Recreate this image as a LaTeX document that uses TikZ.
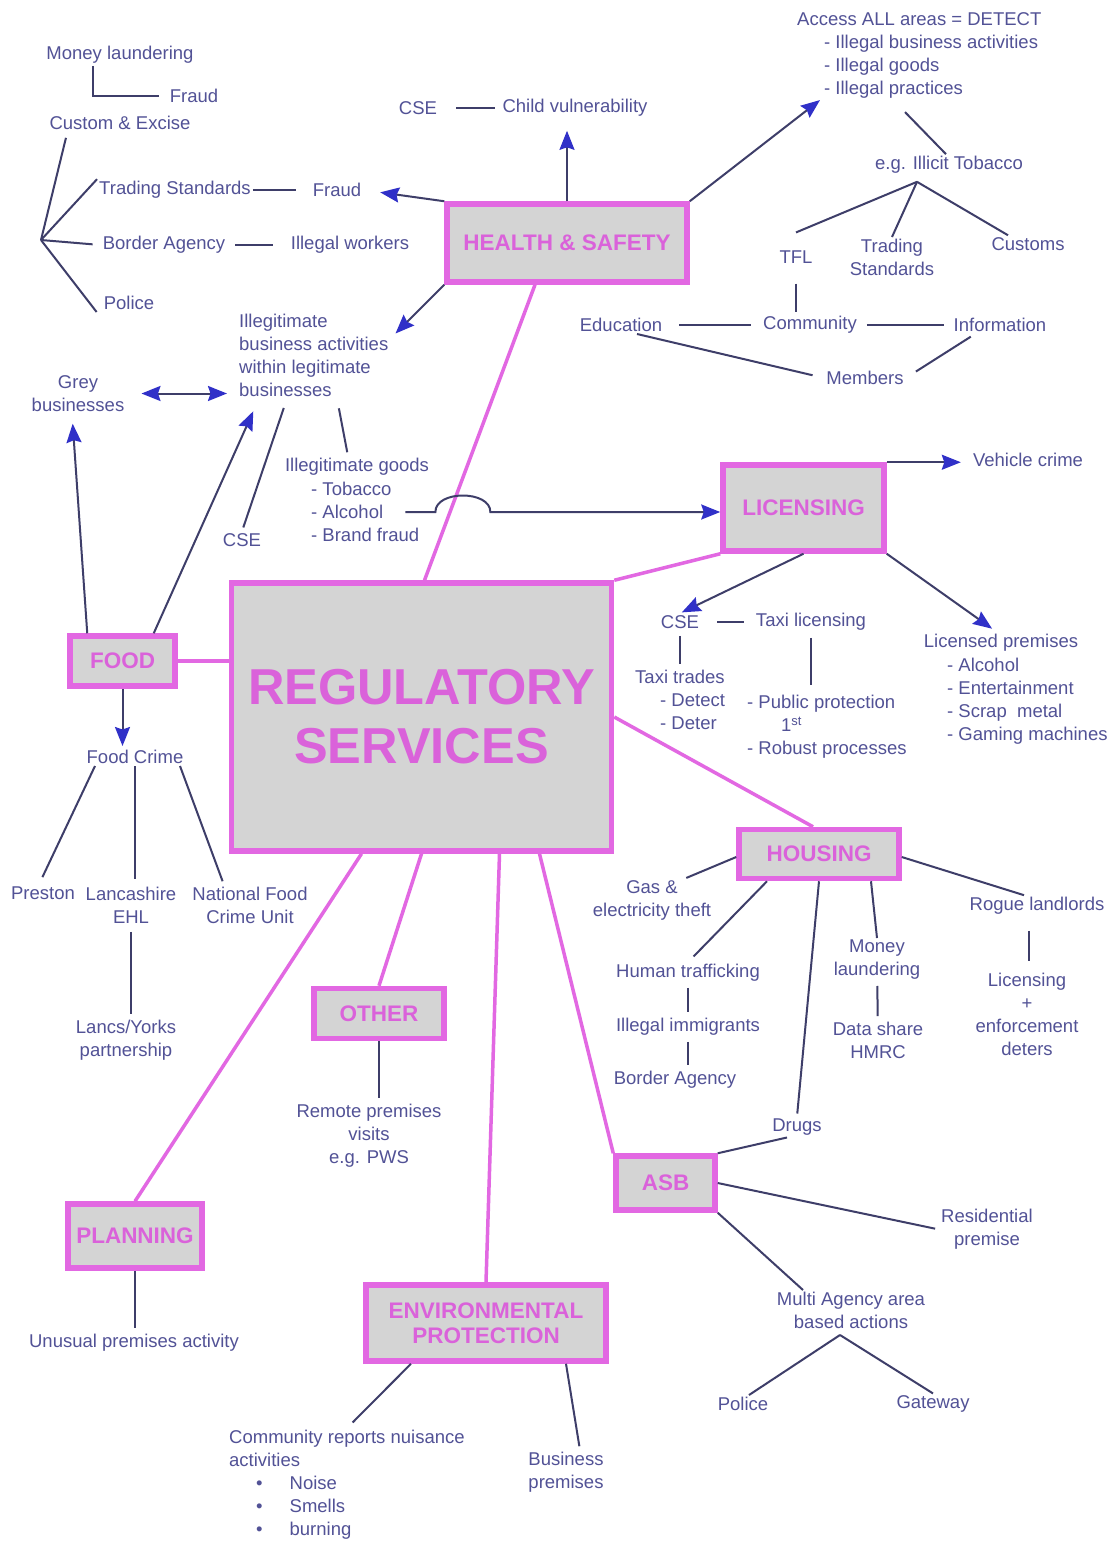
\documentclass[tikz,border=0pt]{standalone}
\usepackage{fontspec}
\setmainfont{Liberation Sans}
\usetikzlibrary{arrows.meta}

\definecolor{pinkline}{RGB}{226,104,226}
\definecolor{pinktext}{RGB}{218,98,218}
\definecolor{boxgrey}{RGB}{212,212,212}
\definecolor{txtblue}{RGB}{82,82,150}
\definecolor{linegrey}{RGB}{62,62,105}
\definecolor{tipblue}{RGB}{48,48,200}

\begin{document}
\begin{tikzpicture}[x=1pt, y=-1pt,
    >={Stealth[length=19pt,width=15pt,inset=2.5pt,color=tipblue]},
    unit/.style={draw=pinkline, line width=5.5pt, fill=boxgrey, text=pinktext,
      font=\fontsize{22.5}{25.5}\selectfont\bfseries, align=center, inner sep=0pt},
    lbl/.style={text=txtblue, font=\fontsize{18.5}{23}\selectfont, align=center, inner sep=2pt},
    link/.style={draw=linegrey, line width=2pt},
    spoke/.style={draw=pinkline, line width=3.5pt}]

  \fill[white] (0,0) rectangle (1116,1542);
  \useasboundingbox (0,0) rectangle (1116,1542);

  % centre and the service boxes
  \node[unit, minimum width=380pt, minimum height=268pt,
    font=\fontsize{50.5}{59}\selectfont\bfseries] (reg) at (421.5,717) {REGULATORY\\SERVICES};
  \node[unit, minimum width=240pt, minimum height=78pt] (hs) at (567,243) {HEALTH \& SAFETY};
  \node[unit, minimum width=161pt, minimum height=86pt] (lic) at (803.5,508) {LICENSING};
  \node[unit, minimum width=105pt, minimum height=50pt] (food) at (122.5,661) {FOOD};
  \node[unit, minimum width=160pt, minimum height=49pt] (housing) at (819,854) {HOUSING};
  \node[unit, minimum width=130pt, minimum height=50pt] (other) at (379,1013.5) {OTHER};
  \node[unit, minimum width=99pt, minimum height=54pt] (asb) at (665.5,1183) {ASB};
  \node[unit, minimum width=134pt, minimum height=64pt] (plan) at (135,1236) {PLANNING};
  \node[unit, minimum width=240pt, minimum height=76pt] (env) at (486,1323) {ENVIRONMENTAL\\PROTECTION};

  % health & safety
  \node[lbl] (mlaund) at (120,55) {Money laundering};
  \node[lbl] (fraudA) at (194,96) {Fraud};
  \node[lbl] (custex) at (120,123) {Custom \& Excise};
  \node[lbl] (tradst) at (175,190) {Trading Standards};
  \node[lbl] (fraudB) at (337,190) {Fraud};
  \node[lbl] (bordA) at (164,245) {Border Agency};
  \node[lbl] (illwork) at (350,245) {Illegal workers};
  \node[lbl] (police) at (129,303) {Police};
  \coordinate (agencies) at (41,240);
  \node[lbl] (cseA) at (418,108) {CSE};
  \node[lbl] (childv) at (575,108) {Child vulnerability};
  \node[lbl, anchor=west, align=left] (access) at (795,55) {Access ALL areas = DETECT\\
    \hspace*{27pt}- Illegal business activities\\\hspace*{27pt}- Illegal goods\\
    \hspace*{27pt}- Illegal practices};
  \node[lbl] (tobacco) at (949,165) {e.g. Illicit Tobacco};
  \node[lbl] (tfl) at (796,257) {TFL};
  \node[lbl] (tradstB) at (892,257.5) {Trading\\Standards};
  \node[lbl] (customs) at (1028,244) {Customs};
  \node[lbl] (educ) at (621,325) {Education};
  \node[lbl] (comm) at (810,325) {Community};
  \node[lbl] (info) at (1000,325) {Information};
  \node[lbl] (members) at (865,378) {Members};
  \node[lbl, anchor=west, align=left] (illeg) at (237,355) {Illegitimate\\business activities\\
    within legitimate\\businesses};
  \node[lbl] (grey) at (78,393.5) {Grey\\businesses};
  \node[lbl] (cseB) at (242,540) {CSE};
  \node[lbl] (goods) at (357,467) {Illegitimate goods};
  \node[lbl, anchor=west] (tobac) at (309,489) {- Tobacco};
  \node[lbl, anchor=west] (alcohol) at (309,512) {- Alcohol};
  \node[lbl, anchor=west] (brand) at (309,535) {- Brand fraud};

  % licensing
  \node[lbl] (vehicle) at (1028,460) {Vehicle crime};
  \node[lbl] (cseC) at (680,622) {CSE};
  \node[lbl] (taxilic) at (811,622) {Taxi licensing};
  \node[lbl, anchor=west, align=left] (taxitr) at (633,700) {Taxi trades\\
    \hspace*{25pt}- Detect\\\hspace*{25pt}- Deter};
  \node[lbl, anchor=west, align=left] (pubprot) at (745,727) {- Public protection\\
    \hspace*{34pt}1\textsuperscript{st}\\- Robust processes};
  \node[lbl] (licprem) at (1001,643) {Licensed premises};
  \node[lbl, anchor=west, align=left] (premlist) at (945,701) {- Alcohol\\- Entertainment\\
    - Scrap\ \ metal\\- Gaming machines};

  % food
  \node[lbl] (fcrime) at (135,757) {Food Crime};
  \node[lbl] (preston) at (43,893) {Preston};
  \node[lbl] (lancs) at (131,905.5) {Lancashire\\EHL};
  \node[lbl] (natfc) at (250,905.5) {National Food\\Crime Unit};
  \node[lbl] (lypart) at (126,1040) {Lancs/Yorks\\partnership};

  % other, planning, environmental protection
  \node[lbl] (remote) at (369,1135.5) {Remote premises\\visits\\e.g. PWS};
  \node[lbl] (unusual) at (134,1343) {Unusual premises activity};
  \node[lbl, anchor=west, align=left] (nuisance) at (227,1485) {Community reports nuisance\\activities\\
    \hspace*{27pt}\textbullet\hspace*{27pt}Noise\\
    \hspace*{27pt}\textbullet\hspace*{27pt}Smells\\
    \hspace*{27pt}\textbullet\hspace*{27pt}burning};
  \node[lbl] (busprem) at (566,1472.5) {Business\\premises};

  % housing
  \node[lbl] (gaselec) at (652,900) {Gas \&\\electricity theft};
  \node[lbl] (traffick) at (688,973) {Human trafficking};
  \node[lbl] (immig) at (688,1027) {Illegal immigrants};
  \node[lbl] (bordB) at (675,1080) {Border Agency};
  \node[lbl] (drugs) at (797,1127) {Drugs};
  \node[lbl] (mlaundB) at (877,960) {Money\\laundering};
  \node[lbl] (datash) at (878,1040.5) {Data share\\HMRC};
  \node[lbl] (rogue) at (1037,906) {Rogue landlords};
  \node[lbl] (licenf) at (1027,1014) {Licensing\\+\\enforcement\\deters};

  % anti-social behaviour
  \node[lbl] (resid) at (987,1229.5) {Residential\\premise};
  \node[lbl] (multi) at (851,1310.5) {Multi Agency area\\based actions};
  \node[lbl] (policeB) at (743,1404) {Police};
  \node[lbl] (gateway) at (933,1404) {Gateway};

  % spokes from the centre
  \draw[spoke] ([xshift=3pt]reg.north) -- ([xshift=-32pt]hs.south);
  \draw[spoke] (reg.north east) -- (lic.south west);
  \draw[spoke] (food.east) -- (food.east -| reg.west);
  \draw[spoke] (reg.east) -- ([xshift=-6pt]housing.north);
  \draw[spoke] (reg.south) -- (other.north);
  \draw[spoke] ([xshift=-60pt]reg.south) -- (plan.north);
  \draw[spoke] ([xshift=78pt]reg.south) -- (env.north);
  \draw[spoke] ([xshift=118pt]reg.south) -- (asb.north west);

  % health & safety links
  \draw[link] ([xshift=-27pt]mlaund.south) |- ([xshift=-9pt]fraudA.west);
  \draw[link, shorten >=6pt] (agencies) -- ([xshift=20pt]custex.south west);
  \draw[link] (agencies) -- (tradst.north west);
  \draw[link, shorten >=8pt] (agencies) -- (bordA.west);
  \draw[link] (agencies) -- ([xshift=-5pt]police.south west);
  \draw[link, shorten >=15pt] (tradst) -- (fraudB);
  \draw[link, shorten <=8pt, shorten >=16pt] (bordA) -- (illwork);
  \draw[link, shorten <=17pt, shorten >=5pt] (cseA) -- (childv);
  \draw[->, link, shorten >=17pt] (hs.north west) -- (fraudB.east);
  \draw[->, link, shorten >=12pt] (hs.north) -- (hs.north |- childv.south);
  \draw[->, link] (hs.north east) -- ([xshift=25pt]access.south west);
  \draw[link] ([xshift=110pt, yshift=-12pt]access.south west) -- ([xshift=-3pt]tobacco.north);
  \coordinate (tobfork) at ([xshift=-32pt, yshift=-6pt]tobacco.south);
  \draw[link] (tobfork) -- ([yshift=16pt]tfl.north);
  \draw[link] (tobfork) -- (tradstB.north);
  \draw[link] (tobfork) -- ([xshift=-20pt]customs.north);
  \draw[link, shorten <=18pt, shorten >=2pt] (tfl.south) -- (tfl.south |- comm.north);
  \draw[link, shorten <=15pt, shorten >=10pt] (educ) -- (comm);
  \draw[link, shorten <=8pt, shorten >=8pt] (comm) -- (info);
  \draw[link, shorten >=12pt] ([xshift=16pt]educ.south) -- (members.west);
  \draw[link, shorten <=12pt, shorten >=5pt] (members.east) -- ([xshift=-25pt]info.south);
  \draw[->, link] (hs.south west) -- ([xshift=5pt, yshift=-22pt]illeg.north east);
  \draw[<->, link, shorten <=15pt, shorten >=10pt] (grey.east) -- (grey.east -| illeg.west);
  \draw[->, link, shorten >=10pt] ([xshift=20pt]food.north west) -- ([xshift=-6pt]grey.south);
  \draw[->, link, shorten >=14pt] ([xshift=-24pt]food.north east) -- ([xshift=22pt]illeg.south west);
  \draw[link, shorten <=4pt, shorten >=10pt] (cseB.north) -- ([xshift=50pt]illeg.south west);
  \draw[link, shorten <=10pt, shorten >=4pt] ([xshift=100pt]illeg.south west) -- ([xshift=-9pt]goods.north);

  % alcohol hops over the spoke on its way to licensing
  \draw[->, link, shorten <=20pt] (alcohol.east) -- ++(50,0)
    .. controls +(0,-22) and +(0,-22) .. ++(55,0) -- (alcohol.east -| lic.west);

  % licensing links
  \draw[->, link, shorten >=10pt] (lic.north east) -- (lic.north east -| vehicle.west);
  \draw[->, link, shorten >=2pt] (lic.south) -- (cseC.north);
  \draw[->, link, shorten >=6pt] (lic.south east) -- ([xshift=-4pt]licprem.north);
  \draw[link, shorten <=16pt, shorten >=10pt] (cseC) -- (taxilic);
  \draw[link, shorten <=5pt, shorten >=4pt] (cseC.south) -- (cseC.south |- taxitr.north);
  \draw[link, shorten <=5pt, shorten >=8pt] (taxilic.south) -- (taxilic.south |- pubprot.north);

  % food links
  \draw[->, link, shorten >=2pt] (food.south) -- (food.south |- fcrime.north);
  \draw[link, shorten >=8pt] ([xshift=-40pt]fcrime.south) -- ([xshift=-4pt]preston.north);
  \draw[link, shorten >=6pt] (fcrime.south) -- (fcrime.south |- lancs.north);
  \draw[link, shorten >=4pt] ([xshift=45pt]fcrime.south) -- ([xshift=-26pt]natfc.north);
  \draw[link, shorten <=6pt, shorten >=4pt] (lancs.south) -- (lancs.south |- lypart.north);

  % other, planning, environmental protection links
  \draw[link, shorten >=4pt] (other.south) -- (other.south |- remote.north);
  \draw[link, shorten >=4pt] (plan.south) -- (plan.south |- unusual.north);
  \draw[link, shorten >=8pt] ([xshift=-75pt]env.south) -- (nuisance.north);
  \draw[link, shorten >=4pt] ([xshift=80pt]env.south) -- ([xshift=14pt]busprem.north);

  % housing links
  \draw[link] ([yshift=-3pt]housing.west) -- ([xshift=-27pt]gaselec.north east);
  \draw[link, shorten >=8pt] ([xshift=-52pt]housing.south) -- (traffick.north);
  \draw[link, shorten <=4pt, shorten >=4pt] (traffick) -- (immig);
  \draw[link, shorten <=4pt, shorten >=4pt] (immig.south) -- (immig.south |- bordB.north);
  \draw[link, shorten >=3pt] (housing.south) -- (drugs.north);
  \draw[link] ([xshift=52pt]housing.south) -- (mlaundB.north);
  \draw[link, shorten <=4pt, shorten >=4pt] (mlaundB) -- (datash);
  \draw[link] ([yshift=-3pt]housing.east) -- ([xshift=-13pt]rogue.north);
  \draw[link, shorten <=14pt, shorten >=10pt] ([xshift=-8pt]rogue.south) -- ([xshift=-8pt]rogue.south |- licenf.north);

  % anti-social behaviour links
  \draw[link] (asb.north east) -- ([xshift=-10pt]drugs.south);
  \draw[link, shorten >=4pt] (asb.east) -- (resid.west);
  \draw[link] (asb.south east) -- ([xshift=-48pt]multi.north);
  \coordinate (multifork) at ([xshift=-11pt, yshift=-4pt]multi.south);
  \draw[link] (multifork) -- ([xshift=6pt]policeB.north);
  \draw[link] (multifork) -- (gateway.north);
\end{tikzpicture}
\end{document}
